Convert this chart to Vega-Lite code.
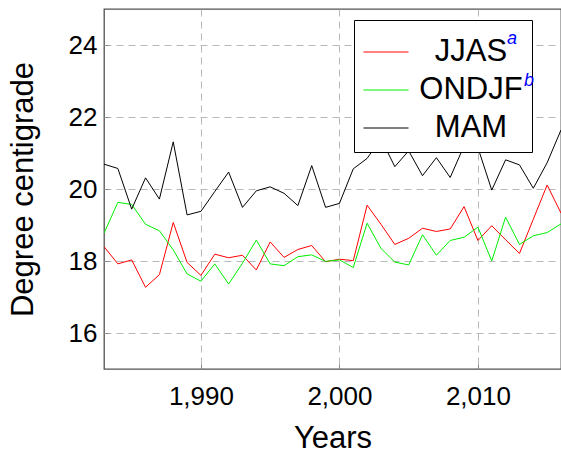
{
  "$schema": "https://vega.github.io/schema/vega-lite/v6.json",
  "width": 457,
  "height": 360,
  "autosize": {"type": "none"},
  "padding": {"left": 104, "top": 9, "right": 0, "bottom": 86},
  "background": "white",
  "config": {
    "font": "Liberation Sans",
    "view": {"stroke": "#505050", "strokeWidth": 1.3},
    "axis": {
      "labelFont": "Liberation Sans",
      "labelFontSize": 26,
      "labelColor": "#000000",
      "titleFont": "Liberation Sans",
      "titleFontSize": 31,
      "titleFontWeight": "normal",
      "titleColor": "#000000",
      "domain": false,
      "grid": true,
      "gridColor": "#b8b8b8",
      "gridDash": [7, 5],
      "gridWidth": 1,
      "ticks": true,
      "tickSize": -5,
      "tickColor": "#8a8a8a",
      "labelPadding": 12
    },
    "legend": {
      "strokeWidth": 1
    }
  },
  "data": {
    "values": [
      {"year": 1983, "season": "JJAS", "temp": 18.40},
      {"year": 1984, "season": "JJAS", "temp": 17.92},
      {"year": 1985, "season": "JJAS", "temp": 18.03},
      {"year": 1986, "season": "JJAS", "temp": 17.27},
      {"year": 1987, "season": "JJAS", "temp": 17.62},
      {"year": 1988, "season": "JJAS", "temp": 19.07},
      {"year": 1989, "season": "JJAS", "temp": 17.96},
      {"year": 1990, "season": "JJAS", "temp": 17.60},
      {"year": 1991, "season": "JJAS", "temp": 18.19},
      {"year": 1992, "season": "JJAS", "temp": 18.09},
      {"year": 1993, "season": "JJAS", "temp": 18.16},
      {"year": 1994, "season": "JJAS", "temp": 17.75},
      {"year": 1995, "season": "JJAS", "temp": 18.53},
      {"year": 1996, "season": "JJAS", "temp": 18.10},
      {"year": 1997, "season": "JJAS", "temp": 18.32},
      {"year": 1998, "season": "JJAS", "temp": 18.43},
      {"year": 1999, "season": "JJAS", "temp": 17.98},
      {"year": 2000, "season": "JJAS", "temp": 18.05},
      {"year": 2001, "season": "JJAS", "temp": 18.01},
      {"year": 2002, "season": "JJAS", "temp": 19.55},
      {"year": 2003, "season": "JJAS", "temp": 19.02},
      {"year": 2004, "season": "JJAS", "temp": 18.46},
      {"year": 2005, "season": "JJAS", "temp": 18.63},
      {"year": 2006, "season": "JJAS", "temp": 18.91},
      {"year": 2007, "season": "JJAS", "temp": 18.82},
      {"year": 2008, "season": "JJAS", "temp": 18.89},
      {"year": 2009, "season": "JJAS", "temp": 19.51},
      {"year": 2010, "season": "JJAS", "temp": 18.57},
      {"year": 2011, "season": "JJAS", "temp": 18.98},
      {"year": 2012, "season": "JJAS", "temp": 18.59},
      {"year": 2013, "season": "JJAS", "temp": 18.21},
      {"year": 2014, "season": "JJAS", "temp": 19.16},
      {"year": 2015, "season": "JJAS", "temp": 20.11},
      {"year": 2016, "season": "JJAS", "temp": 19.33},
      {"year": 1983, "season": "ONDJF", "temp": 18.77},
      {"year": 1984, "season": "ONDJF", "temp": 19.63},
      {"year": 1985, "season": "ONDJF", "temp": 19.57},
      {"year": 1986, "season": "ONDJF", "temp": 19.02},
      {"year": 1987, "season": "ONDJF", "temp": 18.84},
      {"year": 1988, "season": "ONDJF", "temp": 18.31},
      {"year": 1989, "season": "ONDJF", "temp": 17.64},
      {"year": 1990, "season": "ONDJF", "temp": 17.44},
      {"year": 1991, "season": "ONDJF", "temp": 17.92},
      {"year": 1992, "season": "ONDJF", "temp": 17.36},
      {"year": 1993, "season": "ONDJF", "temp": 17.94},
      {"year": 1994, "season": "ONDJF", "temp": 18.58},
      {"year": 1995, "season": "ONDJF", "temp": 17.92},
      {"year": 1996, "season": "ONDJF", "temp": 17.87},
      {"year": 1997, "season": "ONDJF", "temp": 18.12},
      {"year": 1998, "season": "ONDJF", "temp": 18.17},
      {"year": 1999, "season": "ONDJF", "temp": 17.99},
      {"year": 2000, "season": "ONDJF", "temp": 18.03},
      {"year": 2001, "season": "ONDJF", "temp": 17.82},
      {"year": 2002, "season": "ONDJF", "temp": 19.05},
      {"year": 2003, "season": "ONDJF", "temp": 18.35},
      {"year": 2004, "season": "ONDJF", "temp": 17.97},
      {"year": 2005, "season": "ONDJF", "temp": 17.89},
      {"year": 2006, "season": "ONDJF", "temp": 18.73},
      {"year": 2007, "season": "ONDJF", "temp": 18.16},
      {"year": 2008, "season": "ONDJF", "temp": 18.57},
      {"year": 2009, "season": "ONDJF", "temp": 18.66},
      {"year": 2010, "season": "ONDJF", "temp": 18.94},
      {"year": 2011, "season": "ONDJF", "temp": 18.00},
      {"year": 2012, "season": "ONDJF", "temp": 19.22},
      {"year": 2013, "season": "ONDJF", "temp": 18.46},
      {"year": 2014, "season": "ONDJF", "temp": 18.70},
      {"year": 2015, "season": "ONDJF", "temp": 18.79},
      {"year": 2016, "season": "ONDJF", "temp": 19.03},
      {"year": 1983, "season": "MAM", "temp": 20.69},
      {"year": 1984, "season": "MAM", "temp": 20.57},
      {"year": 1985, "season": "MAM", "temp": 19.44},
      {"year": 1986, "season": "MAM", "temp": 20.31},
      {"year": 1987, "season": "MAM", "temp": 19.72},
      {"year": 1988, "season": "MAM", "temp": 21.31},
      {"year": 1989, "season": "MAM", "temp": 19.28},
      {"year": 1990, "season": "MAM", "temp": 19.38},
      {"year": 1991, "season": "MAM", "temp": 19.93},
      {"year": 1992, "season": "MAM", "temp": 20.47},
      {"year": 1993, "season": "MAM", "temp": 19.49},
      {"year": 1994, "season": "MAM", "temp": 19.95},
      {"year": 1995, "season": "MAM", "temp": 20.06},
      {"year": 1996, "season": "MAM", "temp": 19.88},
      {"year": 1997, "season": "MAM", "temp": 19.54},
      {"year": 1998, "season": "MAM", "temp": 20.65},
      {"year": 1999, "season": "MAM", "temp": 19.49},
      {"year": 2000, "season": "MAM", "temp": 19.60},
      {"year": 2001, "season": "MAM", "temp": 20.56},
      {"year": 2002, "season": "MAM", "temp": 20.85},
      {"year": 2003, "season": "MAM", "temp": 21.40},
      {"year": 2004, "season": "MAM", "temp": 20.62},
      {"year": 2005, "season": "MAM", "temp": 21.06},
      {"year": 2006, "season": "MAM", "temp": 20.37},
      {"year": 2007, "season": "MAM", "temp": 20.87},
      {"year": 2008, "season": "MAM", "temp": 20.32},
      {"year": 2009, "season": "MAM", "temp": 21.20},
      {"year": 2010, "season": "MAM", "temp": 21.15},
      {"year": 2011, "season": "MAM", "temp": 19.97},
      {"year": 2012, "season": "MAM", "temp": 20.81},
      {"year": 2013, "season": "MAM", "temp": 20.67},
      {"year": 2014, "season": "MAM", "temp": 20.02},
      {"year": 2015, "season": "MAM", "temp": 20.73},
      {"year": 2016, "season": "MAM", "temp": 21.64}
    ]
  },
  "layer": [
    {
      "mark": {"type": "line", "strokeWidth": 1, "clip": true},
      "encoding": {
        "x": {
          "field": "year",
          "type": "quantitative",
          "scale": {"domain": [1983, 2016], "nice": false, "zero": false},
          "axis": {"title": "Years", "values": [1990, 2000, 2010], "format": ",d", "labelPadding": 19, "titlePadding": 14}
        },
        "y": {
          "field": "temp",
          "type": "quantitative",
          "scale": {"domain": [15, 25], "nice": false, "zero": false},
          "axis": {"title": "Degree centigrade", "values": [16, 18, 20, 22, 24], "titlePadding": 29}
        },
        "color": {
          "field": "season",
          "type": "nominal",
          "scale": {"domain": ["JJAS", "ONDJF", "MAM"], "range": ["#ff0000", "#00ee00", "#000000"]},
          "legend": {
            "title": null,
            "orient": "none",
            "legendX": 250,
            "legendY": 11,
            "padding": 9,
            "fillColor": "#ffffff",
            "strokeColor": "#000000",
            "symbolType": "stroke",
            "symbolSize": 2025,
            "symbolStrokeWidth": 1,
            "labelFont": "Liberation Sans",
            "labelFontSize": 31,
            "labelColor": "#000000",
            "labelAlign": "center",
            "labelOffset": 62,
            "labelLimit": 400,
            "labelExpr": "datum.label + '\u2007'",
            "rowPadding": 0
          }
        }
      }
    },
    {
      "transform": [{"filter": "datum.season == 'JJAS'"}],
      "mark": {"type": "point", "opacity": 0},
      "encoding": {
        "x": {"field": "year", "type": "quantitative"},
        "y": {"field": "temp", "type": "quantitative"},
        "shape": {
          "field": "season",
          "type": "nominal",
          "legend": {
            "title": null,
            "orient": "none",
            "legendX": 385,
            "legendY": 26,
            "padding": 0,
            "symbolSize": 1,
            "symbolOpacity": 0,
            "symbolStrokeWidth": 0,
            "labelFont": "Liberation Sans",
            "labelFontSize": 18,
            "labelFontStyle": "italic",
            "labelColor": "#0000ff",
            "labelOffset": 0,
            "labelBaseline": "alphabetic",
            "labelExpr": "'a'"
          }
        }
      }
    },
    {
      "transform": [{"filter": "datum.season == 'ONDJF'"}],
      "mark": {"type": "point", "opacity": 0},
      "encoding": {
        "x": {"field": "year", "type": "quantitative"},
        "y": {"field": "temp", "type": "quantitative"},
        "stroke": {
          "field": "season",
          "type": "nominal",
          "scale": {"range": ["#0000ff"]},
          "legend": {
            "title": null,
            "orient": "none",
            "legendX": 402,
            "legendY": 68,
            "padding": 0,
            "symbolSize": 1,
            "symbolOpacity": 0,
            "symbolStrokeWidth": 0,
            "labelFont": "Liberation Sans",
            "labelFontSize": 18,
            "labelFontStyle": "italic",
            "labelColor": "#0000ff",
            "labelOffset": 0,
            "labelBaseline": "alphabetic",
            "labelExpr": "'b'"
          }
        }
      }
    }
  ]
}
